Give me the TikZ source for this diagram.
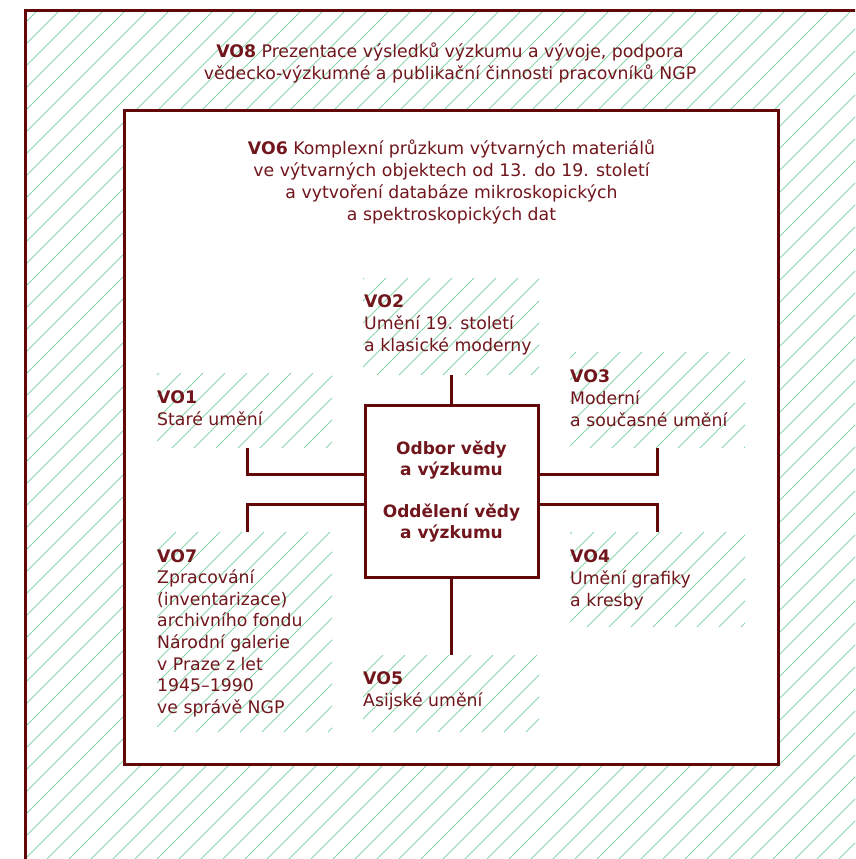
\documentclass[tikz,border=0pt]{standalone}
\usepackage{fontspec}
\setmainfont{DejaVu Sans}
\definecolor{framecol}{RGB}{98,8,8}
\definecolor{textcol}{RGB}{112,22,28}
\definecolor{hatchcol}{RGB}{140,212,172}
\newcommand\leftlines[1]{\begin{tabular}[t]{@{}l@{}}#1\end{tabular}}
\newcommand\centerlines[1]{\begin{tabular}[t]{@{}c@{}}#1\end{tabular}}
\newcommand\hatchrect[4]{%
  \begin{scope}
    \clip (#1,#2) rectangle (#3,#4);
    \pgfmathtruncatemacro\kstart{floor((#1+#2-4)/22)-1}
    \pgfmathtruncatemacro\kend{ceil((#3+#4-4)/22)+1}
    \foreach \k in {\kstart,...,\kend}{%
      \pgfmathsetmacro\hc{22*\k+4}
      \draw[hatchline] ({\hc-#4},#4) -- ({\hc-#2},#2);
    }
  \end{scope}}
\tikzset{
  hatchline/.style={draw=hatchcol, line width=0.9pt},
  frameline/.style={draw=framecol, line width=3pt},
  conn/.style={draw=framecol, line width=3pt},
  boxst/.style={draw=framecol, line width=3pt, fill=white, inner sep=0pt},
  lbl/.style={text=textcol, inner sep=0pt, font=\fontsize{17.3}{22}\selectfont},
  lbltight/.style={text=textcol, inner sep=0pt, font=\fontsize{17.3}{21.6}\selectfont},
  boxlbl/.style={text=textcol, inner sep=0pt, font=\fontsize{17}{21}\selectfont\bfseries},
}
\begin{document}
\begin{tikzpicture}[x=1pt,y=-1pt]
\clip (0,0) rectangle (855,859);
\fill[white] (0,0) rectangle (855,859);
% outer hatched band
\hatchrect{25}{11}{855}{859}
\draw[frameline] (25,11) rectangle (900,900);
% inner frame
\fill[white] (124,110) rectangle (778,764);
\draw[frameline] (124,110) rectangle (778,764);
% small hatched regions
\hatchrect{363}{278}{539}{375}
\hatchrect{157}{373}{332}{448}
\hatchrect{570}{352}{745}{448}
\hatchrect{157}{532}{332}{732}
\hatchrect{570}{532}{745}{627}
\hatchrect{363}{655}{539}{732}
% centre box
\node[boxst, minimum width=173pt, minimum height=172pt] (box) at (451.5,491) {};
\node[boxlbl, anchor=base] (odbor) at (451.5,454) {\centerlines{Odbor vědy\\a výzkumu}};
\node[boxlbl, anchor=base] (oddeleni) at (451.5,517) {\centerlines{Oddělení vědy\\a výzkumu}};
% free ends of connectors
\coordinate (c1) at (247,448);
\coordinate (c2) at (451.5,375);
\coordinate (c3) at (657,448);
\coordinate (c4) at (657,532);
\coordinate (c5) at (451.5,655);
\coordinate (c7) at (247,532);
\draw[conn] (box.north) -- (c2);
\draw[conn] (box.south) -- (c5);
\draw[conn] (c1) |- ([yshift=17pt]box.west);
\draw[conn] (c7) |- ([yshift=-13pt]box.west);
\draw[conn] (c3) |- ([yshift=17pt]box.east);
\draw[conn] (c4) |- ([yshift=-13pt]box.east);
% labels
\node[lbl, anchor=base] (vo8) at (450,57) {\centerlines{\textbf{VO8} Prezentace výsledků výzkumu a vývoje, podpora\\vědecko-výzkumné a publikační činnosti pracovníků NGP}};
\node[lbl, anchor=base] (vo6) at (451.5,154) {\centerlines{\textbf{VO6} Komplexní průzkum výtvarných materiálů\\ve výtvarných objektech od 13. do 19. století\\a vytvoření databáze mikroskopických\\a spektroskopických dat}};
\node[lbl, anchor=base west] (vo2) at (364,307) {\leftlines{\textbf{VO2}\\Umění 19. století\\a klasické moderny}};
\node[lbl, anchor=base west] (vo1) at (157,403) {\leftlines{\textbf{VO1}\\Staré umění}};
\node[lbl, anchor=base west] (vo3) at (570,382) {\leftlines{\textbf{VO3}\\Moderní\\a současné umění}};
\node[lbl, anchor=base west] (vo4) at (570,562) {\leftlines{\textbf{VO4}\\Umění grafiky\\a kresby}};
\node[lbltight, anchor=base west] (vo7) at (157,562) {\leftlines{\textbf{VO7}\\Zpracování\\(inventarizace)\\archivního fondu\\Národní galerie\\v Praze z let\\1945–1990\\ve správě NGP}};
\node[lbl, anchor=base west] (vo5) at (363,684) {\leftlines{\textbf{VO5}\\Asijské umění}};
\end{tikzpicture}
\end{document}
